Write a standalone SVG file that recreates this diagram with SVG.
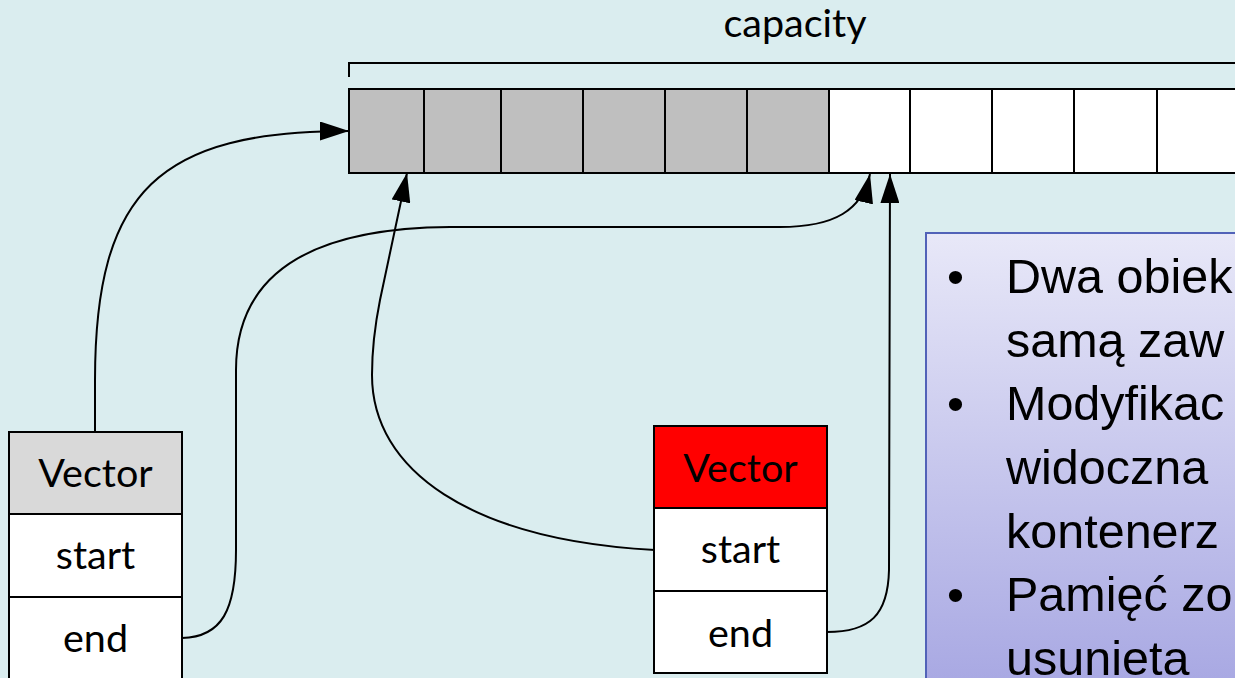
<svg xmlns="http://www.w3.org/2000/svg" width="1235" height="678" viewBox="0 0 1235 678">
  <defs>
    <style>
      .cell { stroke: #000; stroke-width: 2; }
      .used { fill: #BFBFBF; }
      .free { fill: #FFFFFF; }
      .field { fill: #FFFFFF; stroke: #000; stroke-width: 2; }
      .lbl { font-family: Lato, "Open Sans", sans-serif; font-size: 39.5px; fill: #000; text-anchor: middle; }
      .wire { fill: none; stroke: #000; stroke-width: 2; }
      .note { font-family: "Liberation Sans", Arial, sans-serif; font-size: 48.5px; fill: #000; }
    </style>
    <marker id="arrow" markerUnits="userSpaceOnUse" markerWidth="29" markerHeight="19" refX="29" refY="9.5" orient="auto">
      <path d="M0,0 L29,9.5 L0,19 Z" fill="#000"/>
    </marker>
    <linearGradient id="noteFill" gradientUnits="userSpaceOnUse" x1="0" y1="233" x2="0" y2="678">
      <stop offset="0" stop-color="#E8E8F8"/>
      <stop offset="1" stop-color="#A9A9E3"/>
    </linearGradient>
  </defs>

  <!-- background -->
  <rect x="0" y="0" width="1235" height="678" fill="#DAEDEF"/>

  <!-- capacity bracket and label -->
  <g id="capacity">
    <path d="M349,77 L349,63 L1240,63" fill="none" stroke="#000" stroke-width="2"/>
    <text class="lbl" x="795" y="37">capacity</text>
  </g>

  <!-- storage buffer: six used slots, the rest free -->
  <g id="buffer">
    <rect class="cell used" x="349" y="89" width="75" height="84"/>
    <rect class="cell used" x="424" y="89" width="77" height="84"/>
    <rect class="cell used" x="501" y="89" width="82" height="84"/>
    <rect class="cell used" x="583" y="89" width="82" height="84"/>
    <rect class="cell used" x="665" y="89" width="82" height="84"/>
    <rect class="cell used" x="747" y="89" width="82" height="84"/>
    <rect class="cell free" x="829" y="89" width="81" height="84"/>
    <rect class="cell free" x="910" y="89" width="82" height="84"/>
    <rect class="cell free" x="992" y="89" width="82" height="84"/>
    <rect class="cell free" x="1074" y="89" width="83" height="84"/>
    <rect class="cell free" x="1157" y="89" width="82" height="84"/>
  </g>

  <!-- first vector object -->
  <g id="vector-a">
    <rect class="field" x="9" y="432" width="173" height="82" style="fill:#D9D9D9"/>
    <text class="lbl" x="95.5" y="487">Vector</text>
    <rect class="field" x="9" y="514" width="173" height="83"/>
    <text class="lbl" x="95.5" y="569">start</text>
    <rect class="field" x="9" y="597" width="173" height="83"/>
    <text class="lbl" x="95.5" y="652">end</text>
  </g>

  <!-- second vector object (shallow copy) -->
  <g id="vector-b">
    <rect class="field" x="654" y="426" width="173" height="82" style="fill:#FF0000"/>
    <text class="lbl" x="740.5" y="482">Vector</text>
    <rect class="field" x="654" y="508" width="173" height="83"/>
    <text class="lbl" x="740.5" y="563">start</text>
    <rect class="field" x="654" y="591" width="173" height="82"/>
    <text class="lbl" x="740.5" y="647">end</text>
  </g>

  <!-- pointers into the buffer -->
  <g id="connectors">
    <path class="wire" marker-end="url(#arrow)" d="M95,432 L95,380 C95,190 160,131 349,131"/>
    <path class="wire" marker-end="url(#arrow)" d="M182,638 C222,637 236,610 236,550 L236,370 C236,280 300,228 450,227 L780,227 C835,227 862,210 870,174"/>
    <path class="wire" marker-end="url(#arrow)" d="M655,550 C470,540 372,470 372,375 C372,345 376,320 380,300 L407,173"/>
    <path class="wire" marker-end="url(#arrow)" d="M827,632 C870,632 888,615 889,570 L890,174"/>
  </g>

  <!-- notes panel, running off the right edge -->
  <g id="notes">
    <rect x="926" y="233" width="330" height="460" fill="url(#noteFill)" stroke="#5162B8" stroke-width="2"/>
    <text class="note" x="947" y="293">•</text>
    <text class="note" x="1006" y="293">Dwa obiek</text>
    <text class="note" x="1006" y="357">samą zaw</text>
    <text class="note" x="947" y="420">•</text>
    <text class="note" x="1006" y="420">Modyfikac</text>
    <text class="note" x="1006" y="484">widoczna</text>
    <text class="note" x="1006" y="548">kontenerz</text>
    <text class="note" x="947" y="611">•</text>
    <text class="note" x="1006" y="611">Pamięć zo</text>
    <text class="note" x="1006" y="675">usunieta</text>
  </g>
</svg>
